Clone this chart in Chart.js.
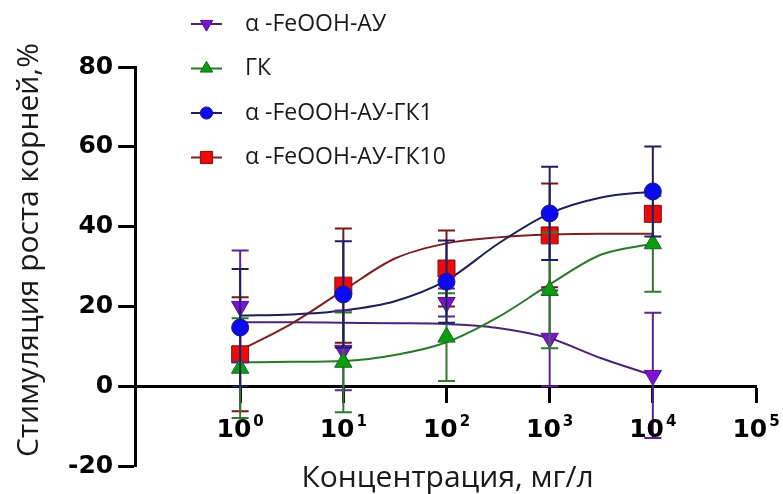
<!DOCTYPE html>
<html>
<head>
<meta charset="utf-8">
<script src="https://cdn.jsdelivr.net/npm/chart.js@4.4.1/dist/chart.umd.min.js"></script>
<style>
  html, body { margin: 0; padding: 0; background: #fff; }
  #wrap { width: 783px; height: 494px; position: relative; }
</style>
</head>
<body>
<div id="wrap"><canvas id="chartDose"></canvas></div>
<script>
// concentracoes, mg/l
const concentracoes = [1, 10, 100, 1000, 10000];
const nomesSeries = ['α -FeOOH-АУ', 'ГК', 'α -FeOOH-АУ-ГК1', 'α -FeOOH-АУ-ГК10'];

// medias e desvios
const feoohAU = [20, 9, 21, 12, 2.7];
const feoohAUErro = [14, 10, 3.5, 12, 15.7];
const gk = [4.5, 6, 12.3, 24, 35.7];
const gkErro = [12.5, 12.5, 11, 14.5, 12];
const feoohGK1 = [14.7, 23, 26.2, 43.3, 48.8];
const feoohGK1Erro = [14.7, 13.3, 10.3, 11.7, 11.3];
const feoohGK10 = [8, 25.2, 29.5, 37.8, 43.2];
const feoohGK10Erro = [14.3, 14.3, 9.5, 13, 0];

const ajusteX = [1, 3.162, 10, 31.62, 100, 316.2, 1000, 3162, 10000];
const ajusteFeoohAU = [16, 16, 15.9, 15.8, 15.6, 14.6, 12, 7, 2.7];
const ajusteGK = [6, 6.1, 6.3, 7.8, 11, 17.3, 25.5, 33, 35.7];
const ajusteGK1 = [17.7, 18, 19, 21.3, 26.5, 35.7, 43.3, 47.3, 48.8];
const ajusteGK10 = [9, 15.7, 24, 32, 35.8, 37.3, 38, 38.2, 38.2];

const xTicks = [1, 10, 100, 1000, 10000, 100000];
const expoentesX = ['0', '1', '2', '3', '4', '5'];
const yTicks = [-20, 0, 20, 40, 60, 80];
const tituloX = 'Концентрация, мг/л';
const tituloY = 'Стимуляция роста корней,%';

function pontos(xs, vals) {
    return vals.map(function (v, i) { return { x: xs[i], y: v } });
}

function serie(nome, vals, erros, estilo, rot, raio, cor, borda, corErro, corLinha, ordem) {
    return {
        label: nome,
        data: pontos(concentracoes, vals),
        erros: erros,
        corErro: corErro,
        corLinha: corLinha,
        showLine: false,
        pointStyle: estilo,
        pointRotation: rot,
        pointRadius: raio,
        pointBackgroundColor: cor,
        pointBorderColor: borda,
        pointBorderWidth: 1,
        order: ordem
    };
}

function curva(vals, cor, ordem) {
    return {
        label: '',
        data: pontos(ajusteX, vals),
        showLine: true,
        borderColor: cor,
        borderWidth: 2,
        pointRadius: 0,
        cubicInterpolationMode: 'monotone',
        order: ordem,
        curva: true
    };
}

const dadosDose = {
    datasets: [
        serie(nomesSeries[0], feoohAU, feoohAUErro, 'triangle', 180, 10, '#7f0fd6', '#4a1a80', '#5b2590', '#4b2478', 2),
        serie(nomesSeries[1], gk, gkErro, 'triangle', 0, 10, '#0c9c12', '#136b17', '#2e7a2e', '#2a7a2a', 1),
        serie(nomesSeries[2], feoohGK1, feoohGK1Erro, 'circle', 0, 8.5, '#0a0af0', '#1a1a70', '#1e1e66', '#1e1e5a', 0),
        serie(nomesSeries[3], feoohGK10, feoohGK10Erro, 'rect', 0, 12, '#ee0a0a', '#7a1010', '#7a1818', '#7b2020', 3),
        curva(ajusteFeoohAU, '#4b2478', 7),
        curva(ajusteGK, '#2a7a2a', 6),
        curva(ajusteGK1, '#1e1e5a', 4),
        curva(ajusteGK10, '#7b2020', 5)
    ]
};

// barras de erro, desenhadas antes dos pontos de cada serie
const barrasErro = {
    id: 'barrasErro',
    beforeDatasetDraw(chart, args) {
        const ds = chart.data.datasets[args.index];
        if (!ds.erros) return;
        const c = chart.ctx;
        const sx = chart.scales.x, sy = chart.scales.y;
        c.save();
        c.strokeStyle = ds.corErro;
        c.lineWidth = 2;
        ds.data.forEach(function (p, i) {
            const e = ds.erros[i];
            if (!e) return;
            const px = sx.getPixelForValue(p.x);
            const y1 = sy.getPixelForValue(p.y + e);
            const y2 = sy.getPixelForValue(p.y - e);
            c.beginPath();
            c.moveTo(px, y1); c.lineTo(px, y2);
            c.moveTo(px - 8.5, y1); c.lineTo(px + 8.5, y1);
            c.moveTo(px - 8.5, y2); c.lineTo(px + 8.5, y2);
            c.stroke();
        });
        c.restore();
    }
};

// rotulos 10^n com expoente e titulos dos eixos
const rotulosEixos = {
    id: 'rotulosEixos',
    afterDraw(chart) {
        const c = chart.ctx;
        const sx = chart.scales.x, sy = chart.scales.y;
        const y0 = sy.getPixelForValue(0);
        c.save();
        c.fillStyle = '#000';
        c.textBaseline = 'alphabetic';
        c.textAlign = 'left';
        xTicks.forEach(function (v, i) {
            const px = sx.getPixelForValue(v);
            c.font = 'bold 25px "DejaVu Sans"';
            const w1 = c.measureText('10').width;
            c.font = 'bold 15px "DejaVu Sans"';
            const w2 = c.measureText(expoentesX[i]).width;
            const x0 = px - (w1 + w2 + 2) / 2;
            c.font = 'bold 25px "DejaVu Sans"';
            c.fillText('10', x0, y0 + 51);
            c.font = 'bold 15px "DejaVu Sans"';
            c.fillText(expoentesX[i], x0 + w1 + 2, y0 + 40);
        });

        c.fillStyle = '#1a1a1a';
        c.font = '30px "Open Sans"';
        c.textAlign = 'center';
        c.textBaseline = 'middle';
        c.fillText(tituloX, (chart.chartArea.left + chart.chartArea.right) / 2 + 2, 478);
        c.translate(29, 250);
        c.rotate(-Math.PI / 2);
        c.fillText(tituloY, 0, 0);
        c.restore();
    }
};

// legenda no topo, como no original
const legendaDose = {
    id: 'legendaDose',
    afterDraw(chart) {
        const c = chart.ctx;
        const series = chart.data.datasets.filter(function (d) { return !d.curva });
        c.save();
        series.forEach(function (ds, i) {
            const y = 24 + i * 44.5;
            c.strokeStyle = ds.corLinha;
            c.lineWidth = 2;
            c.beginPath();
            c.moveTo(191, y); c.lineTo(222, y);
            c.stroke();
            c.fillStyle = ds.pointBackgroundColor;
            c.strokeStyle = ds.pointBorderColor;
            c.lineWidth = 1;
            Chart.helpers.drawPoint(c, {
                pointStyle: ds.pointStyle,
                rotation: ds.pointRotation,
                radius: ds.pointRadius * 0.72,
                borderWidth: 1
            }, 206.5, y);
            c.fillStyle = '#1a1a1a';
            c.font = '23px "Open Sans"';
            c.textBaseline = 'middle';
            c.fillText(ds.label, 245, y);
        });
        c.restore();
    }
};

const ctx = document.getElementById('chartDose');

var graficoDose = new Chart(ctx, {
    type: 'scatter',
    data: dadosDose,
    options: {
        responsive: true,
        maintainAspectRatio: false,
        animation: false,
        layout: { padding: { left: 63, top: 67, right: 27, bottom: 28 } },
        scales: {
            x: {
                type: 'logarithmic',
                position: { y: 0 },
                min: 0.096,
                max: 100000,
                afterBuildTicks: function (scale) {
                    scale.ticks = xTicks.map(function (v) { return { value: v } });
                },
                ticks: { display: false },
                grid: { drawOnChartArea: false, tickLength: 15, tickWidth: 3, tickColor: '#000' },
                border: { color: '#000', width: 3 }
            },
            y: {
                min: -20,
                max: 80,
                afterBuildTicks: function (scale) {
                    scale.ticks = yTicks.map(function (v) { return { value: v } });
                },
                ticks: {
                    padding: 5,
                    color: '#000',
                    font: { family: 'DejaVu Sans', weight: 'bold', size: 25 }
                },
                grid: { drawOnChartArea: false, tickLength: 17, tickWidth: 3, tickColor: '#000' },
                border: { color: '#000', width: 3 }
            }
        },
        plugins: {
            legend: { display: false },
            tooltip: { enabled: false }
        }
    },
    plugins: [barrasErro, rotulosEixos, legendaDose]
});
</script>
</body>
</html>
